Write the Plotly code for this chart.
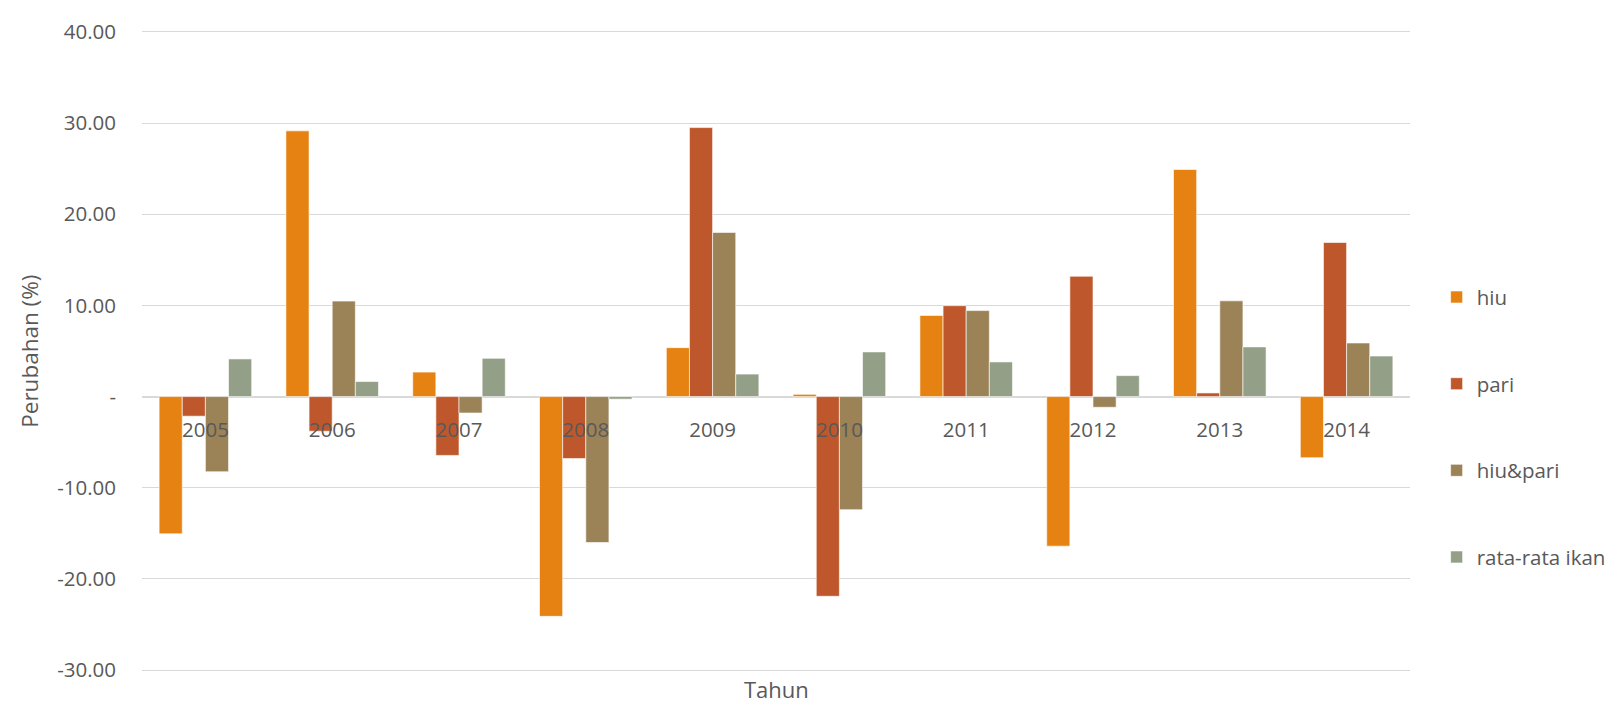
import plotly.graph_objects as go

years = ["2005", "2006", "2007", "2008", "2009", "2010", "2011", "2012", "2013", "2014"]
hiu = [-15.05, 29.14, 2.69, -24.1, 5.37, 0.25, 8.9, -16.4, 24.9, -6.7]
pari = [-2.15, -3.8, -6.45, -6.8, 29.5, -21.9, 9.97, 13.2, 0.4, 16.9]
hiu_pari = [-8.24, 10.47, -1.8, -16.0, 18.0, -12.4, 9.43, -1.17, 10.5, 5.88]
rata_ikan = [4.13, 1.65, 4.2, -0.28, 2.47, 4.9, 3.8, 2.3, 5.45, 4.45]

series = [
    ("hiu", hiu, "#E68211"),
    ("pari", pari, "#BE582C"),
    ("hiu&pari", hiu_pari, "#9B8257"),
    ("rata-rata ikan", rata_ikan, "#939F86"),
]

y_ticks = [-30, -20, -10, 0, 10, 20, 30, 40]
y_ticktext = ["-" if v == 0 else f"{v:.2f}" for v in y_ticks]
y_min, y_max = -30.2, 40.2

FONT = "Open Sans, Lato, sans-serif"
GREY = "#595959"

fig = go.Figure()
for name, vals, col in series:
    fig.add_trace(go.Bar(
        x=years, y=vals, name=name, legendgroup=name,
        marker=dict(color=col, line=dict(color="rgba(255,255,255,0.6)", width=1)),
    ))

fig.update_layout(
    width=1612, height=697,
    margin=dict(l=134, r=201, t=9, b=33),
    paper_bgcolor="white", plot_bgcolor="white",
    barmode="group", bargap=0.27, bargroupgap=0,
    font=dict(family=FONT, size=20.5, color=GREY),
    showlegend=True,
    legend=dict(
        x=1.021, xanchor="left", y=0.3813, yanchor="middle",
        font=dict(family=FONT, size=20.5, color=GREY),
        traceorder="grouped", tracegroupgap=57,
        itemclick=False, bgcolor="rgba(0,0,0,0)",
    ),
    xaxis=dict(
        type="category",
        anchor="free",
        position=(0 - y_min) / (y_max - y_min),
        showgrid=False, showline=False, zeroline=False,
        ticks="", ticklabelstandoff=19,
        tickfont=dict(family=FONT, size=20.5, color=GREY),
    ),
    yaxis=dict(
        range=[y_min, y_max],
        tickvals=y_ticks, ticktext=y_ticktext,
        showgrid=True, gridcolor="#D9D9D9", gridwidth=1.3,
        zeroline=True, zerolinecolor="#D9D9D9", zerolinewidth=2,
        showline=False, ticks="", ticklabelstandoff=25,
        ticklabeloverflow="allow",
        tickfont=dict(family=FONT, size=20.5, color=GREY),
    ),
    annotations=[
        dict(text="Tahun", xref="paper", yref="paper", x=0.5, y=-0.026,
             xanchor="center", yanchor="middle", showarrow=False,
             font=dict(family=FONT, size=22, color=GREY)),
        dict(text="Perubahan (%)", xref="paper", yref="paper", x=-0.0893, y=0.5,
             xanchor="center", yanchor="middle", showarrow=False, textangle=-90,
             font=dict(family=FONT, size=22.5, color=GREY)),
    ],
)

fig.write_html("out.html")
